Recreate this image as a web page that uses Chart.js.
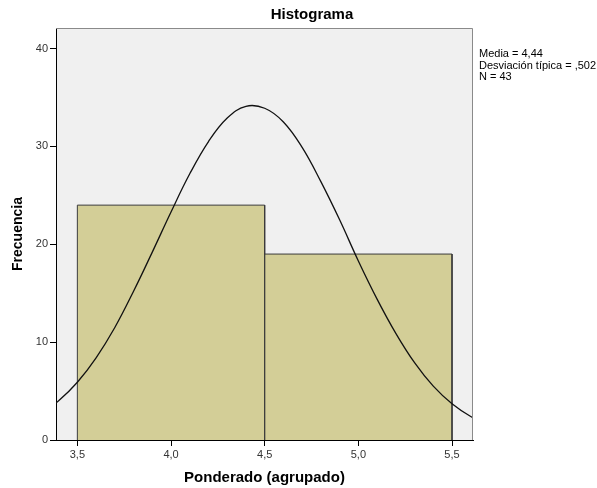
<!DOCTYPE html>
<html>
<head>
<meta charset="utf-8">
<script src="https://cdn.jsdelivr.net/npm/chart.js@4"></script>
<style>
  html, body { margin: 0; padding: 0; background: #fff; }
  #wrap { width: 597px; height: 488px; }
</style>
</head>
<body>
<div id="wrap"><canvas id="chartCanvas"></canvas></div>
<script>
// --- Data ---
const binEdges = [3.5, 4.5, 5.5];
const binCounts = [24, 19];

// normal curve
const curveX = [3.3, 3.4, 3.5, 3.6, 3.7, 3.8, 3.9, 4.0, 4.1, 4.2, 4.3, 4.4, 4.5,
  4.6, 4.7, 4.8, 4.9, 5.0, 5.1, 5.2, 5.3, 5.4, 5.5, 5.6, 5.7];
const curveY = [2.6, 4.0, 5.9, 8.4, 11.5, 15.2, 19.2, 23.3, 27.2, 30.5, 32.9, 34.1, 33.9,
  32.5, 29.9, 26.4, 22.5, 18.3, 14.4, 10.9, 7.9, 5.5, 3.7, 2.4, 1.5];

const yTicks = [0, 10, 20, 30, 40];
const xTicks = [3.5, 4.0, 4.5, 5.0, 5.5];
const statsLines = ["Media = 4,44", "Desviación típica = ,502", "N = 43"];

const FONT = "'Liberation Sans', Arial, sans-serif";
const comma = v => v.toFixed(1).replace(".", ",");

// histogram outline: up, across, down for every bin
const histPoints = [];
binCounts.forEach((c, i) => {
  histPoints.push({ x: binEdges[i], y: 0 });
  histPoints.push({ x: binEdges[i], y: c });
  histPoints.push({ x: binEdges[i + 1], y: c });
  histPoints.push({ x: binEdges[i + 1], y: 0 });
});
const curvePoints = curveX.map((x, i) => ({ x, y: curveY[i] }));

// --- plugins ---
const panel = {
  id: "panel",
  beforeDraw(chart) {
    const { ctx, chartArea: a } = chart;
    ctx.save();
    ctx.fillStyle = "#f0f0f0";
    ctx.fillRect(a.left, a.top, a.right - a.left, a.bottom - a.top);
    ctx.restore();
  },
  afterDraw(chart) {
    const { ctx, chartArea: a } = chart;
    ctx.save();
    ctx.strokeStyle = "#8a8a8a";
    ctx.lineWidth = 1;
    ctx.beginPath();
    ctx.moveTo(a.left, a.top + 0.5);
    ctx.lineTo(a.right - 0.5, a.top + 0.5);
    ctx.lineTo(a.right - 0.5, a.bottom);
    ctx.stroke();

    // title
    ctx.fillStyle = "#000";
    ctx.font = "bold 15px " + FONT;
    ctx.textAlign = "center";
    ctx.textBaseline = "middle";
    ctx.fillText("Histograma", 312, 15);

    // stats box
    ctx.font = "11px " + FONT;
    ctx.textAlign = "left";
    statsLines.forEach((t, i) => ctx.fillText(t, a.right + 6, 54 + i * 11.5));
    ctx.restore();
  }
};

new Chart(document.getElementById("chartCanvas"), {
  type: "line",
  data: {
    datasets: [
      {
        label: "Normal",
        data: curvePoints,
        borderColor: "#111",
        borderWidth: 1.3,
        pointRadius: 0,
        tension: 0.4,
        fill: false,
        clip: 0
      },
      {
        label: "Frecuencia",
        data: histPoints,
        borderColor: "#3a3a3a",
        borderWidth: 1,
        backgroundColor: "#d3ce97",
        pointRadius: 0,
        tension: 0,
        fill: "origin"
      }
    ]
  },
  plugins: [panel],
  options: {
    responsive: true,
    maintainAspectRatio: false,
    animation: false,
    layout: { padding: { top: 28, right: 124, left: 0, bottom: 0 } },
    plugins: {
      legend: { display: false },
      tooltip: { enabled: false },
      title: { display: false }
    },
    scales: {
      x: {
        type: "linear",
        min: 3.386,
        max: 5.612,
        afterFit: s => { s.height = 48; },
        afterBuildTicks: s => { s.ticks = xTicks.map(v => ({ value: v })); },
        border: { color: "#000", width: 1 },
        grid: { drawOnChartArea: false, drawTicks: true, tickLength: 6, tickColor: "#000" },
        ticks: {
          padding: 2,
          color: "#333",
          font: { family: FONT, size: 11 },
          callback: v => comma(v)
        },
        title: {
          display: true,
          text: "Ponderado (agrupado)",
          color: "#000",
          font: { family: FONT, size: 15, weight: "bold" },
          padding: { top: 4, bottom: 1 }
        }
      },
      y: {
        min: 0,
        max: 42.1,
        afterFit: s => { s.width = 56; },
        afterBuildTicks: s => { s.ticks = yTicks.map(v => ({ value: v })); },
        border: { color: "#000", width: 1 },
        grid: { drawOnChartArea: false, drawTicks: true, tickLength: 6, tickColor: "#000" },
        ticks: {
          padding: 2,
          color: "#333",
          font: { family: FONT, size: 11 }
        },
        title: {
          display: true,
          text: "Frecuencia",
          color: "#000",
          font: { family: FONT, size: 14, weight: "bold" },
          padding: { top: 10, bottom: 0 }
        }
      }
    }
  }
});
</script>
</body>
</html>
